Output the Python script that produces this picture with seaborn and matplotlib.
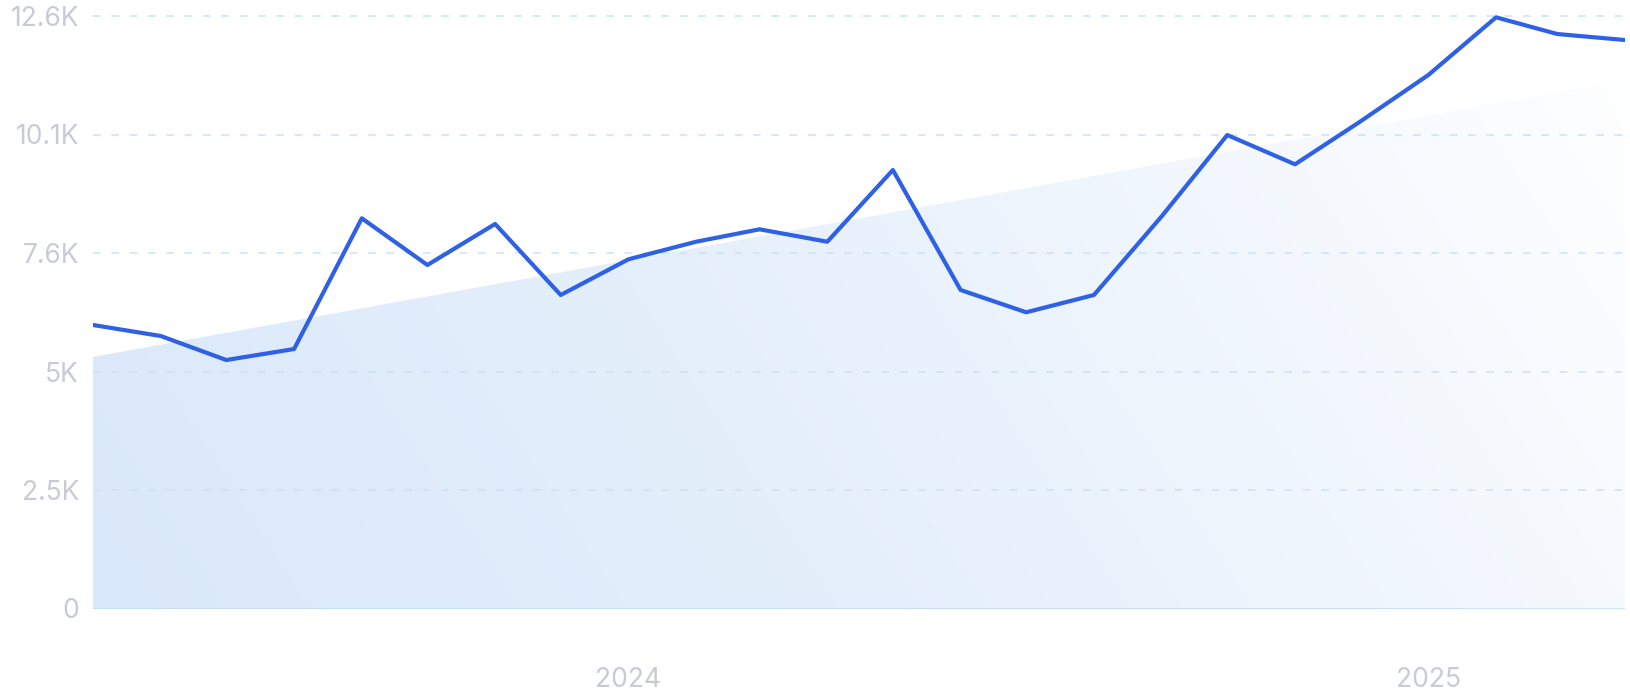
import numpy as np
import pandas as pd
import matplotlib
matplotlib.use('Agg')
import matplotlib.pyplot as plt
import matplotlib.dates as mdates
from matplotlib.colors import LinearSegmentedColormap
import seaborn as sns

# Monthly values (May 2023 .. Apr 2025)
MONTHS = pd.date_range('2023-05-01', '2025-04-01', freq='MS')
VALUES = [6029, 5795, 5284, 5518, 8298, 7305, 8177, 6667,
          7426, 7800, 8064, 7800, 9325, 6773, 6299, 6667,
          8340, 10069, 9446, 10360, 11345, 12572, 12217, 12089]

# Trend band endpoints (first / last month)
TREND_START = 5350
TREND_END = 11240

Y_TICKS = [0, 2520, 5040, 7560, 10080, 12600]
Y_LABELS = ['0', '2.5K', '5K', '7.6K', '10.1K', '12.6K']
X_TICKS = ['2024-01-01', '2025-01-01']
X_LABELS = ['2024', '2025']

LINE_COLOR = '#2f61e6'
GRID_COLOR = '#cbe1f8'
BASE_COLOR = '#bcdcf7'
LABEL_COLOR = '#c9cbd4'

sns.set_style('white')
plt.rcParams['font.family'] = ['Inter', 'DejaVu Sans']

W, H = 1631, 700
fig = plt.figure(figsize=(W / 100, H / 100), dpi=100)
y_top = 12700
px_per = (608.5 - 16) / 12600
top_px = 608.5 - y_top * px_per
ax = fig.add_axes([93 / W, 1 - 608.5 / H, (1625 - 93) / W, (608.5 - top_px) / H])

df = pd.DataFrame({'month': MONTHS, 'value': VALUES})
x0, x1 = mdates.date2num(MONTHS[0]), mdates.date2num(MONTHS[-1])

# trend area with diagonal gradient
trend = pd.DataFrame({'month': [MONTHS[0], MONTHS[-1]], 'value': [TREND_START, TREND_END]})
poly = ax.fill_between(trend['month'], 0, trend['value'], facecolor='none', edgecolor='none')
nx, ny = 400, 200
gx = np.linspace(0, 1, nx)[None, :]
gy = np.linspace(1, 0, ny)[:, None]
t = np.clip(0.8 * gx + 0.2 * gy, 0, 1)
cmap = LinearSegmentedColormap.from_list('trend', ['#d9e8fa', '#e8f1fc', '#ffffff'])
img = ax.imshow(t, cmap=cmap, vmin=0, vmax=1, extent=[x0, x1, 0, y_top],
                aspect='auto', origin='upper', zorder=1)
img.set_clip_path(poly.get_paths()[0], transform=ax.transData)

# grid lines
for yv in Y_TICKS[1:]:
    ax.axhline(yv, color=GRID_COLOR, lw=1.1, dashes=(5.0, 7.0), zorder=2, clip_on=False)
ax.axhline(0, color=BASE_COLOR, lw=1.2, zorder=2)

sns.lineplot(data=df, x='month', y='value', ax=ax, color=LINE_COLOR,
             linewidth=3.0, zorder=3)
ax.lines[-1].set_solid_joinstyle('round')

ax.set_xlim(x0, x1)
ax.set_ylim(0, y_top)
ax.set_yticks(Y_TICKS)
ax.set_yticklabels(Y_LABELS)
ax.set_xticks([mdates.date2num(pd.Timestamp(d)) for d in X_TICKS])
ax.set_xticklabels(X_LABELS)
ax.tick_params(axis='both', length=0, labelsize=19, labelcolor=LABEL_COLOR)
ax.tick_params(axis='y', pad=10)
ax.tick_params(axis='x', pad=42)
ax.set_xlabel('')
ax.set_ylabel('')
sns.despine(ax=ax, left=True, bottom=True)

fig.savefig('out.png', dpi=100)
